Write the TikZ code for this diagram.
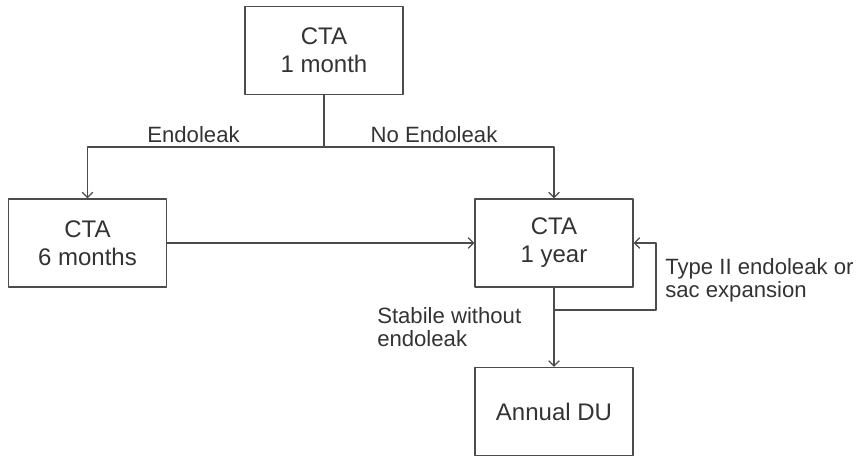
\documentclass[tikz,border=0pt]{standalone}
\usepackage{fontspec}
\setmainfont{Liberation Sans}
\usetikzlibrary{arrows.meta}
\tikzset{
  box/.style={draw=black!70,line width=0.9pt,minimum width=158*0.75pt,minimum height=88*0.75pt,
    align=center,font=\fontsize{18}{21}\selectfont,text=black!80},
  lbl/.style={inner sep=0pt,align=left,font=\fontsize{16.6}{17.5}\selectfont,text=black!80},
  conn/.style={draw=black!70,line width=0.9pt}
}
\begin{document}
\begin{tikzpicture}[line cap=round,line join=round,>={Straight Barb[length=4pt,width=8pt]},x=0.75pt,y=-0.75pt]
				\useasboundingbox (0,0) rectangle (862,457);
				\node[box] (month) at (324,50.5) {CTA\\1 month};
				\node[box] (six) at (87.5,243) {CTA\\6 months};
				\node[box] (year) at (554,243) {CTA\\1 year};
				\node[box] (du) at (554,411.5) {Annual DU};
				\coordinate (fork) at (324,147);
				\coordinate (loopin) at (554,310);
				\coordinate (loopout) at (656,310);
				\draw[conn] (month) -- (fork);
				\draw[conn,->] (fork) -| (six.north);
				\draw[conn,->] (fork) -| (year.north);
				\draw[conn,->] (six) -- (year);
				\draw[conn,->] (year) -- (du);
				\draw[conn,->] (loopin) -- (loopout) |- (year.east);
				\node[lbl,anchor=base] (yes) at (193.5,142) {Endoleak};
				\node[lbl,anchor=base] (no) at (434,142) {No Endoleak};
				\node[lbl,anchor=west] (back) at (665,280) {Type II endoleak or\\sac expansion};
				\node[lbl,anchor=west] (stable) at (377,327) {Stabile without\\endoleak};
			\end{tikzpicture}
\end{document}
